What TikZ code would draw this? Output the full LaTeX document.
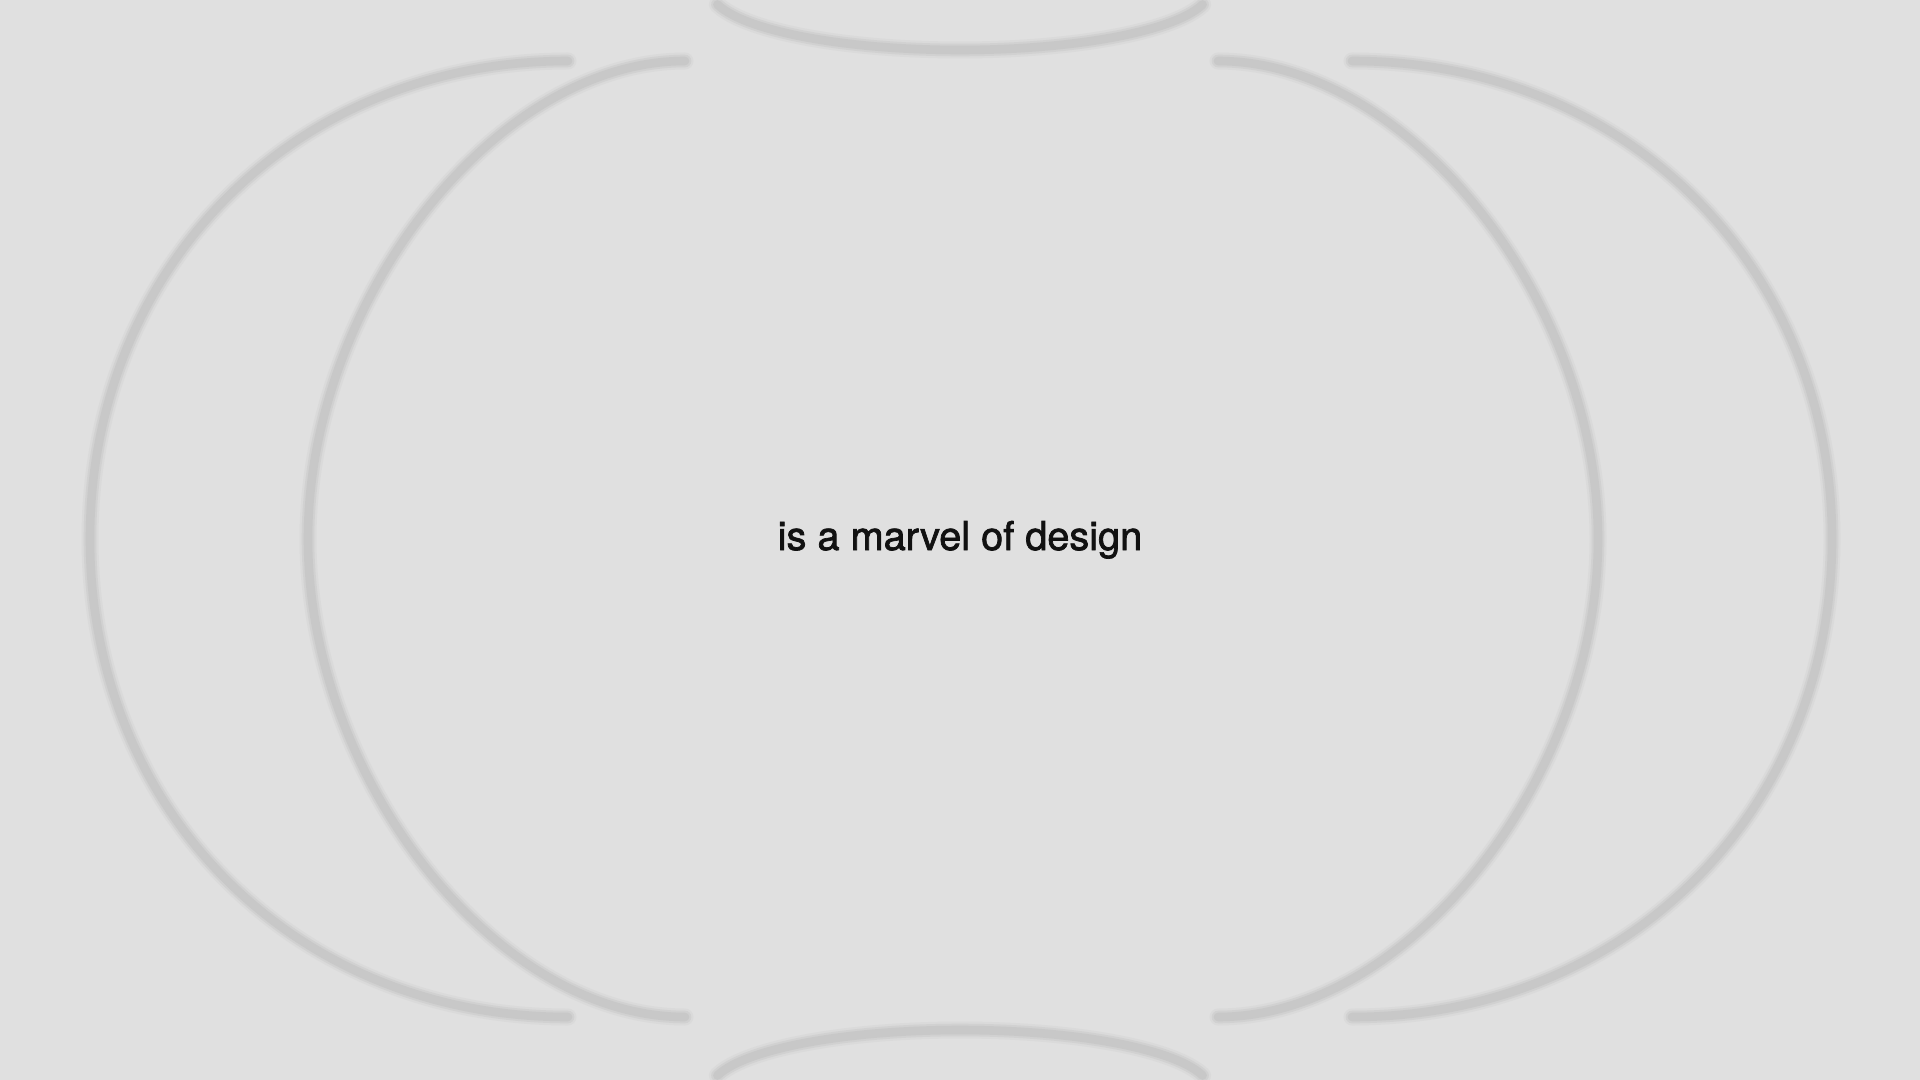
\documentclass[tikz,border=0pt]{standalone}
\usepackage{fontspec}
\setmainfont{TeX Gyre Heros}
\newfontfamily\capfont{TeX Gyre Heros}[FakeBold=1.8]
\definecolor{bg}{HTML}{E0E0E0}
\definecolor{arcO}{HTML}{DADADA}
\definecolor{arcA}{HTML}{D1D1D1}
\definecolor{arcC}{HTML}{C8C8C8}
\definecolor{ink}{HTML}{111111}
\tikzset{
  softarc/.style={line cap=round, draw=arcA, line width=6.3pt,
    preaction={draw=arcO, line cap=round, line width=8.5pt},
    postaction={draw=arcC, line cap=round, line width=4.3pt}},
  caption/.style={font=\capfont\fontsize{19.85pt}{24pt}\selectfont, text=ink, inner sep=0pt, anchor=base}
}
\begin{document}
\begin{tikzpicture}[x=0.5pt,y=-0.5pt]
  \fill[bg] (0,0) rectangle (1920,1080);
  \useasboundingbox (0,0) rectangle (1920,1080);
  % left outer arc
  \draw[softarc] (568,61) .. controls (295,61) and (90,267) .. (90,539)
                 .. controls (90,811) and (295,1017) .. (568,1017);
  % left inner arc
  \draw[softarc] (685,61) .. controls (496,61) and (308,300) .. (308,539)
                 .. controls (308,778) and (496,1017) .. (685,1017);
  % right inner arc
  \draw[softarc] (1218,61) .. controls (1408,61) and (1598,300) .. (1598,539)
                 .. controls (1598,778) and (1408,1017) .. (1218,1017);
  % right outer arc
  \draw[softarc] (1352,61) .. controls (1626,61) and (1832,267) .. (1832,539)
                 .. controls (1832,811) and (1626,1017) .. (1352,1017);
  % top arc
  \draw[softarc] plot[domain=194:346, samples=80, smooth] ({960+250*cos(\x)}, {-10-60*sin(\x)});
  % bottom arc
  \draw[softarc] plot[domain=194:346, samples=80, smooth] ({960+250*cos(\x)}, {1090+60*sin(\x)});
  % caption
  \node[caption] (title) at (960,550) {is a marvel of design};
\end{tikzpicture}
\end{document}
